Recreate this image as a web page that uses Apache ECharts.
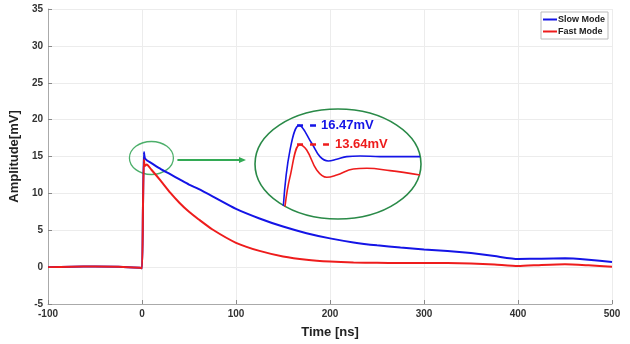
<!DOCTYPE html>
<html>
<head>
    <meta charset="utf-8">
    <script src="https://cdn.jsdelivr.net/npm/echarts@6/dist/echarts.min.js"></script>
    <style>
        html, body, #chart {
            width: 630px;
            height: 344px;
            margin: 0px;
            background: #fff;
        }
    </style>
</head>
<body>
    <div id="chart"></div>
    <script>
        // main traces, time in ns, amplitude in mV
        var timeNs = [-100, -75, -50, -25, -2, 0, 1, 2, 3, 5, 10, 20, 30, 40, 50, 60, 75, 100, 125, 150, 175, 200, 225, 250, 275, 300, 325, 350, 375, 400, 425, 450, 475, 500];
        var slowMode = [0, 0.05, 0.1, 0.05, -0.1, -0.15, 8, 15.6, 14.8, 14.5, 14.1, 13.3, 12.6, 11.9, 11.2, 10.6, 9.6, 7.9, 6.6, 5.5, 4.6, 3.9, 3.35, 2.95, 2.65, 2.4, 2.2, 1.9, 1.5, 1.1, 1.15, 1.2, 1.0, 0.7];
        var fastMode = [0, 0.05, 0.1, 0.05, -0.1, -0.15, 8, 14.6, 13.7, 13.9, 13.2, 11.7, 10.1, 8.7, 7.5, 6.5, 5.1, 3.3, 2.2, 1.45, 1.0, 0.75, 0.62, 0.58, 0.55, 0.55, 0.55, 0.5, 0.35, 0.15, 0.3, 0.4, 0.25, 0.05];

        // zoomed view of the peak (inset)
        var zoomX = [0.33, 0.99, 1.9, 3.13, 3.94, 4.76, 5.59, 6.58, 7.89, 9.86, 13.8];
        var zoomSlow = [4.6, 12.85, 16.47, 13.83, 11.86, 11.23, 11.48, 11.86, 11.96, 11.86, 11.86];
        var zoomXFast = [0.49, 0.99, 1.97, 2.63, 3.62, 4.61, 5.59, 7.23, 8.55, 10.85, 13.8];
        var zoomFast = [4.5, 8.91, 13.64, 12.85, 9.9, 8.82, 9.16, 10.05, 10.15, 9.8, 9.16];
        var peakSlow = 16.47;
        var peakFast = 13.64;

        var xTicks = [-100, 500, 100];
        var yTicks = [-5, 35, 5];

        var BLUE = '#1414e6';
        var RED = '#ee1c1c';

        function pairs(xs, ys) {
            return xs.map(function (x, i) { return [x, ys[i]]; });
        }

        var chart = echarts.init(document.getElementById('chart'));
        var labelFont = { fontFamily: 'Liberation Sans', fontWeight: 'bold' };

        var option = {
            backgroundColor: '#fff',
            animation: false,
            grid: [
                { left: 47, right: 18, top: 9, bottom: 36 },
                { left: 280, top: 115, width: 142, height: 95 }
            ],
            legend: {
                data: ['Slow Mode', 'Fast Mode'],
                orient: 'vertical',
                right: 22,
                top: 12,
                itemWidth: 14,
                itemHeight: 2,
                itemGap: 3,
                padding: [3, 3, 3, 2],
                backgroundColor: '#fff',
                borderColor: '#bbb',
                borderWidth: 1,
                borderRadius: 0,
                icon: 'rect',
                textStyle: { fontSize: 9, fontWeight: 'bold', color: '#222', fontFamily: 'Liberation Sans', padding: [0, 0, 0, -4] }
            },
            xAxis: [{
                type: 'value',
                gridIndex: 0,
                min: xTicks[0],
                max: xTicks[1],
                interval: xTicks[2],
                name: 'Time [ns]',
                nameLocation: 'middle',
                nameGap: 22,
                nameTextStyle: Object.assign({ fontSize: 13, color: '#222' }, labelFont),
                axisLine: { onZero: false, lineStyle: { color: '#aaa' } },
                axisTick: { inside: true, length: 4, lineStyle: { color: '#888' } },
                axisLabel: Object.assign({ fontSize: 10, color: '#333', margin: 5 }, labelFont),
                splitLine: { show: true, lineStyle: { color: '#ececec' } }
            }, {
                type: 'value', gridIndex: 1, min: 0, max: 14, show: false
            }],
            yAxis: [{
                type: 'value',
                gridIndex: 0,
                min: yTicks[0],
                max: yTicks[1],
                interval: yTicks[2],
                name: 'Amplitude[mV]',
                nameLocation: 'middle',
                nameGap: 20,
                nameTextStyle: Object.assign({ fontSize: 13, color: '#222' }, labelFont),
                axisLine: { show: true, onZero: false, lineStyle: { color: '#aaa' } },
                axisTick: { show: true, inside: true, length: 4, lineStyle: { color: '#888' } },
                axisLabel: Object.assign({ fontSize: 10, color: '#333', margin: 5 }, labelFont),
                splitLine: { show: true, lineStyle: { color: '#ececec' } }
            }, {
                type: 'value', gridIndex: 1, min: 4, max: 18, show: false
            }],
            series: [{
                name: 'Slow Mode',
                type: 'line',
                data: pairs(timeNs, slowMode),
                showSymbol: false,
                smooth: 0.2,
                color: BLUE,
                lineStyle: { width: 2, color: BLUE }
            }, {
                name: 'Fast Mode',
                type: 'line',
                data: pairs(timeNs, fastMode),
                showSymbol: false,
                smooth: 0.2,
                color: RED,
                lineStyle: { width: 2, color: RED }
            }, {
                name: 'zoomSlow',
                type: 'line',
                xAxisIndex: 1,
                yAxisIndex: 1,
                data: pairs(zoomX, zoomSlow),
                showSymbol: false,
                smooth: 0.4,
                lineStyle: { width: 1.6, color: BLUE }
            }, {
                name: 'zoomFast',
                type: 'line',
                xAxisIndex: 1,
                yAxisIndex: 1,
                data: pairs(zoomXFast, zoomFast),
                showSymbol: false,
                smooth: 0.4,
                lineStyle: { width: 1.6, color: RED }
            }, {
                name: 'peakSlow',
                type: 'line',
                xAxisIndex: 1,
                yAxisIndex: 1,
                data: [[1.68, peakSlow], [3.55, peakSlow]],
                showSymbol: false,
                lineStyle: { width: 2.5, color: BLUE, type: [6, 7] },
                endLabel: {
                    show: true,
                    distance: 5,
                    formatter: peakSlow.toFixed(2) + 'mV',
                    color: BLUE,
                    fontSize: 13,
                    fontWeight: 'bold',
                    fontFamily: 'Liberation Sans'
                }
            }, {
                name: 'peakFast',
                type: 'line',
                xAxisIndex: 1,
                yAxisIndex: 1,
                data: [[1.68, peakFast], [4.83, peakFast]],
                showSymbol: false,
                lineStyle: { width: 2.5, color: RED, type: [6, 7] },
                endLabel: {
                    show: true,
                    distance: 6,
                    formatter: peakFast.toFixed(2) + 'mV',
                    color: RED,
                    fontSize: 13,
                    fontWeight: 'bold',
                    fontFamily: 'Liberation Sans'
                }
            }]
        };
        chart.setOption(option);

        // callout: small ring round the peak, arrow, big ring round the inset
        var ring = chart.convertToPixel({ gridIndex: 0 }, [10, 14.8]);
        var arrowStart = ring[0] + 26;
        chart.setOption({
            graphic: [{
                type: 'ellipse',
                shape: { cx: ring[0], cy: ring[1], rx: 22, ry: 16.5 },
                style: { fill: 'none', stroke: '#4caf6a', lineWidth: 1.3 }
            }, {
                type: 'line',
                shape: { x1: arrowStart, y1: ring[1] + 2, x2: 240, y2: ring[1] + 2 },
                style: { stroke: '#33aa55', lineWidth: 2 }
            }, {
                type: 'polygon',
                shape: { points: [[239, ring[1] - 1], [246, ring[1] + 2], [239, ring[1] + 5]] },
                style: { fill: '#33aa55' }
            }, {
                type: 'ellipse',
                shape: { cx: 338, cy: 164, rx: 83, ry: 55 },
                style: { fill: 'none', stroke: '#2a8a48', lineWidth: 1.6 }
            }]
        });
    </script>
</body>
</html>
